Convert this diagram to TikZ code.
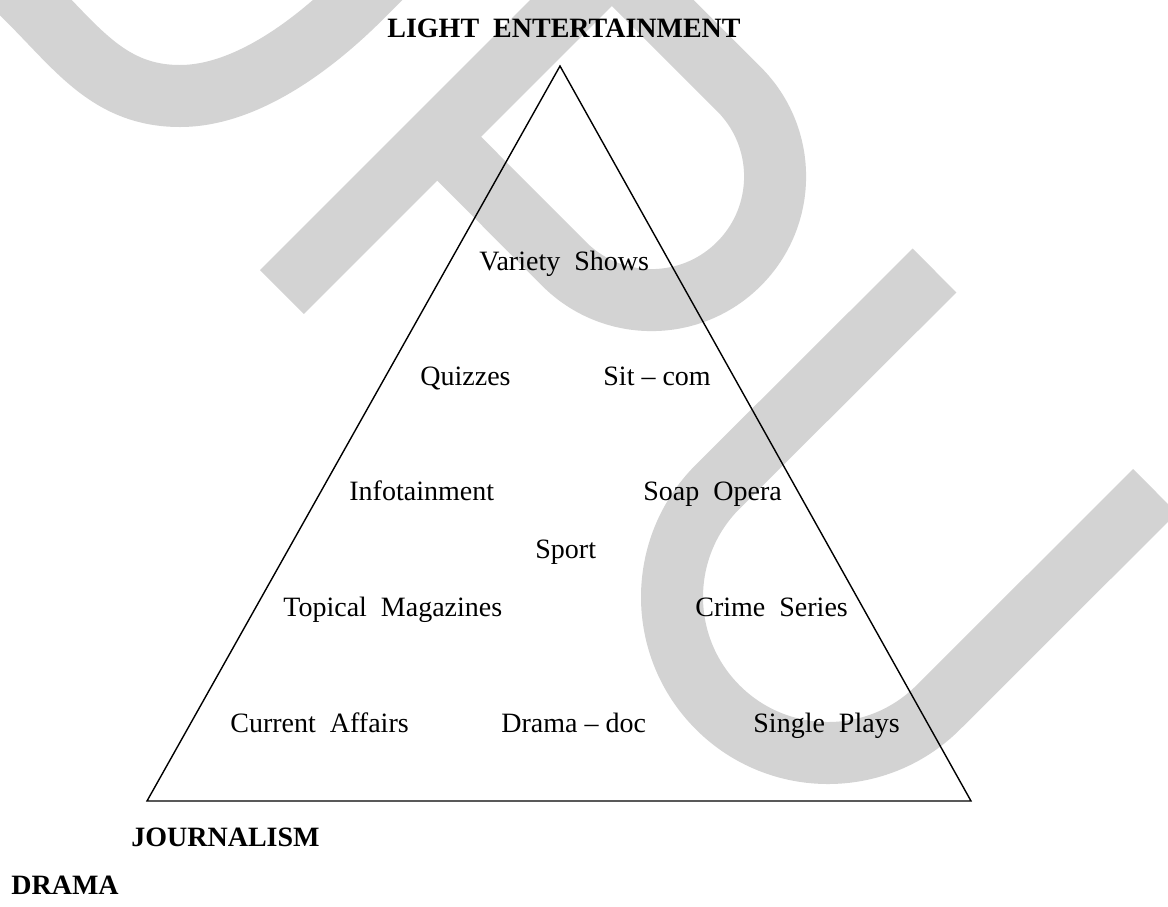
\documentclass[tikz,border=0pt]{standalone}
\usepackage{fontspec}
\setmainfont{Liberation Serif}
\definecolor{wm}{RGB}{211,211,211}
\begin{document}
\begin{tikzpicture}[x=0.5pt,y=-0.5pt,
  lbl/.style={inner sep=0pt, anchor=base west, font=\fontsize{14}{16}\selectfont},
  head/.style={inner sep=0pt, font=\fontsize{14}{16}\selectfont\bfseries},
  wmark/.style={draw=wm, line width=31pt},
  edge/.style={draw=black, line width=0.7pt, line join=miter}]
\useasboundingbox (0,0) rectangle (1168,906);
\fill[white] (0,0) rectangle (1168,906);
% watermark
\begin{scope}
\clip (0,0) rectangle (1168,906);
\draw[wmark] (-40,-68.5) -- (28.5,0) .. controls (78.5,50) and (110,96) .. (180,96) .. controls (250,96) and (320,38) .. (358.5,0) -- (410,-51.5);
\draw[wmark] (282,292) -- (622,-48);
\draw[wmark] (437.75,137.25) -- (564.1,263.9) arc[start angle=135, end angle=-45, radius=123.6] -- (612.4,-37.4);
\draw[wmark] (934.5,270.5) -- (717.7,486.7) arc[start angle=225, end angle=45, radius=156] -- (1155,491);
\end{scope}
% triangle
\coordinate (apex) at (560,66);
\coordinate (bl) at (147,801);
\coordinate (br) at (971,801);
\draw[edge] (apex) -- (bl) -- (br) -- cycle;
% labels
\node[head, anchor=base] (le) at (564,37) {LIGHT\ \ ENTERTAINMENT};
\node[lbl] (vs) at (479,270) {Variety\ \ Shows};
\node[lbl] (qz) at (420,385) {Quizzes};
\node[lbl] (sc) at (603,385) {Sit \textendash{} com};
\node[lbl] (inf) at (349,500) {Infotainment};
\node[lbl] (so) at (643,500) {Soap\ \ Opera};
\node[lbl] (sp) at (535,558) {Sport};
\node[lbl] (tm) at (283,616) {Topical\ \ Magazines};
\node[lbl] (cs) at (695,616) {Crime\ \ Series};
\node[lbl] (ca) at (230,732) {Current\ \ Affairs};
\node[lbl] (dd) at (501,732) {Drama \textendash{} doc};
\node[lbl] (spl) at (753,732) {Single\ \ Plays};
\node[head, anchor=base west] (jo) at (131,846) {JOURNALISM};
\node[head, anchor=base west] (dr) at (11,894) {DRAMA};
\end{tikzpicture}
\end{document}
